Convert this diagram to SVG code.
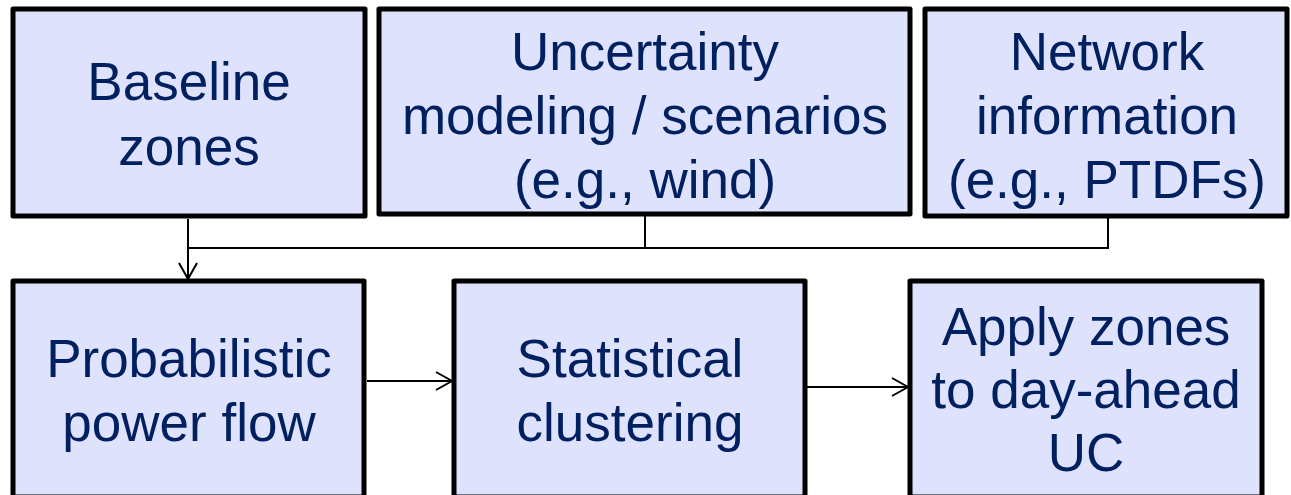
<svg xmlns="http://www.w3.org/2000/svg" width="1291" height="495" viewBox="0 0 1291 495">
<style>
.box{fill:#dee2fc;stroke:#000;stroke-width:5;stroke-linejoin:round}
.t{font-family:"Liberation Sans",Arial,sans-serif;font-size:53px;fill:#002060;text-anchor:middle}
.c{fill:none;stroke:#000;stroke-width:2}
</style>
<defs>
<marker id="ah" markerUnits="userSpaceOnUse" markerWidth="20" markerHeight="22" refX="17" refY="10" orient="auto">
<path d="M1,1 L17,10 L1,19" fill="none" stroke="#000" stroke-width="2"/>
</marker>
</defs>
<g id="baseline">
<rect class="box" x="13" y="9" width="352" height="207"/>
<text class="t" x="189" y="100">Baseline</text>
<text class="t" x="189" y="165">zones</text>
</g>
<g id="uncertainty">
<rect class="box" x="379" y="9" width="531" height="205"/>
<text class="t" x="645" y="70">Uncertainty</text>
<text class="t" x="645" y="134">modeling / scenarios</text>
<text class="t" x="645" y="198">(e.g., wind)</text>
</g>
<g id="network">
<rect class="box" x="925" y="9" width="362" height="207"/>
<text class="t" x="1107" y="70">Network</text>
<text class="t" x="1107" y="134">information</text>
<text class="t" x="1107" y="198">(e.g., PTDFs)</text>
</g>
<g id="ppf">
<rect class="box" x="13" y="281" width="351" height="216"/>
<text class="t" x="189" y="377">Probabilistic</text>
<text class="t" x="189" y="441">power flow</text>
</g>
<g id="clustering">
<rect class="box" x="454" y="281" width="351" height="216"/>
<text class="t" x="630" y="377">Statistical</text>
<text class="t" x="630" y="441">clustering</text>
</g>
<g id="apply">
<rect class="box" x="910" y="281" width="352" height="216"/>
<text class="t" x="1086" y="345">Apply zones</text>
<text class="t" x="1086" y="408">to day-ahead</text>
<text class="t" x="1086" y="471">UC</text>
</g>
<g id="connectors">
<line class="c" x1="188" y1="219" x2="188" y2="279" marker-end="url(#ah)"/>
<line class="c" x1="187" y1="248" x2="1109" y2="248"/>
<line class="c" x1="645" y1="216" x2="645" y2="248"/>
<line class="c" x1="1108" y1="218" x2="1108" y2="249"/>
<line class="c" x1="367" y1="381" x2="452" y2="381" marker-end="url(#ah)"/>
<line class="c" x1="807" y1="387" x2="908" y2="387" marker-end="url(#ah)"/>
</g>
</svg>
